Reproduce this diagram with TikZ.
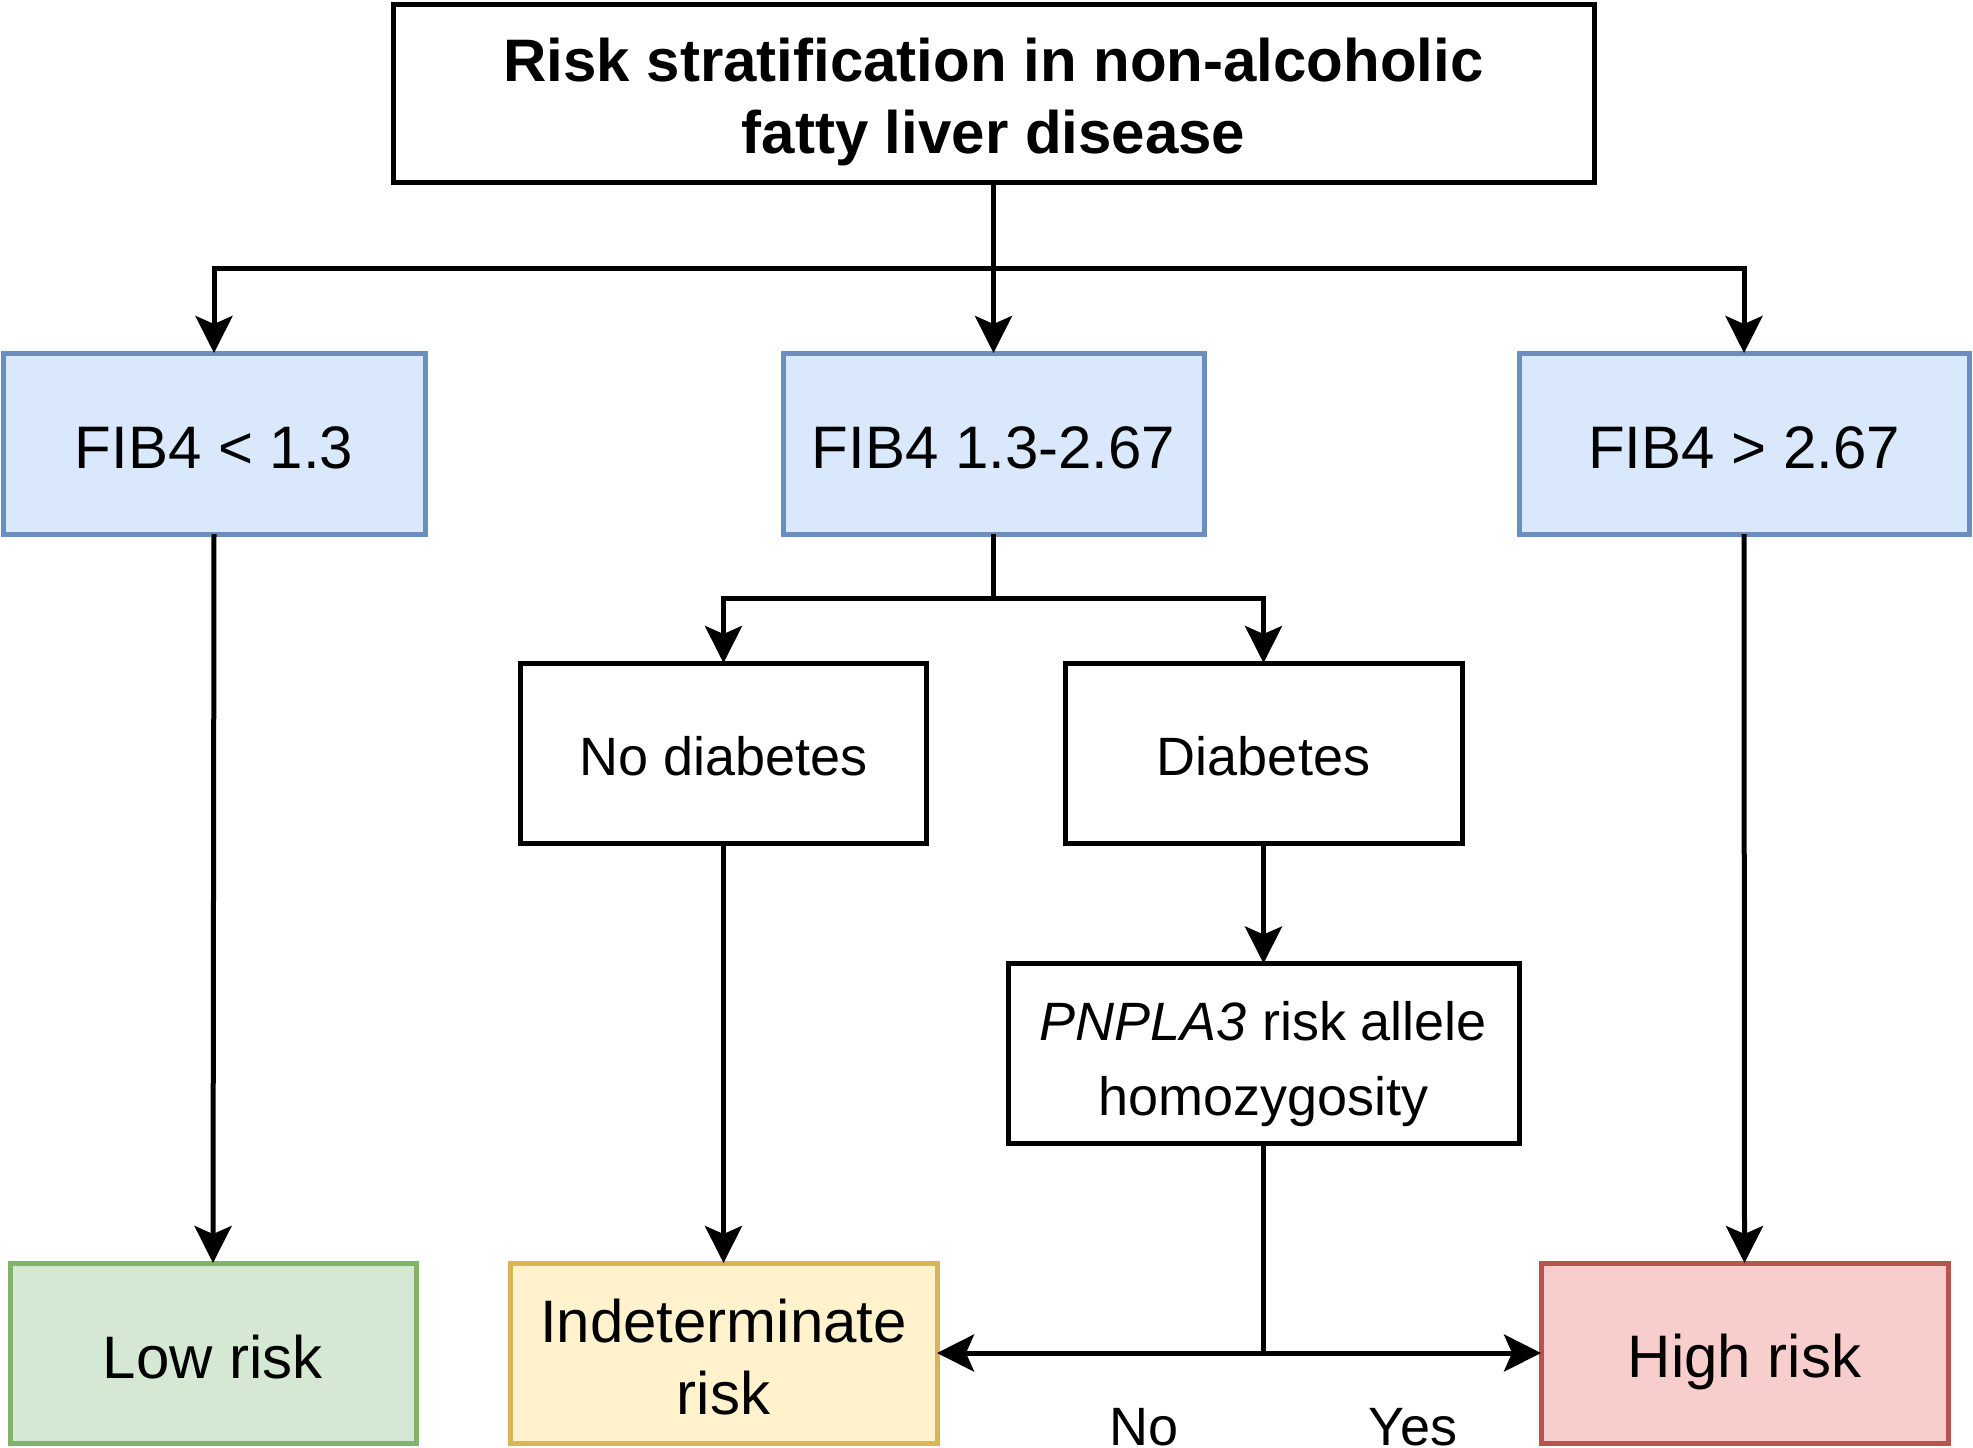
\documentclass[tikz,border=0pt]{standalone}
\usepackage{fontspec}
\setmainfont{Liberation Sans}
\usetikzlibrary{arrows.meta}
\definecolor{bluefill}{HTML}{DAE8FC}
\definecolor{bluedraw}{HTML}{6C8EBF}
\definecolor{greenfill}{HTML}{D5E8D4}
\definecolor{greendraw}{HTML}{82B366}
\definecolor{yellowfill}{HTML}{FFF2CC}
\definecolor{yellowdraw}{HTML}{D6B656}
\definecolor{redfill}{HTML}{F8CECC}
\definecolor{reddraw}{HTML}{B85450}
\newcommand\dstrut{\rule[-0.1833em]{0pt}{1.2em}}
\newcommand\pstrut{\rule[-6.5pt]{0pt}{37.5pt}}
\tikzset{
  box/.style={draw=black, fill=white, line width=2.5pt, rectangle, inner sep=0pt, outer sep=0pt, align=center},
  bigtext/.style={font=\fontsize{30pt}{36pt}\selectfont},
  smalltext/.style={font=\fontsize{27pt}{37.5pt}\selectfont},
  bluebox/.style={box, fill=bluefill, draw=bluedraw, bigtext, minimum height=90.5pt},
  lowbox/.style={box, fill=greenfill, draw=greendraw, bigtext, minimum height=90pt},
  midbox/.style={box, fill=yellowfill, draw=yellowdraw, bigtext, minimum height=90pt},
  highbox/.style={box, fill=redfill, draw=reddraw, bigtext, minimum height=90pt},
  plainbox/.style={box, smalltext, minimum height=90pt},
  conn/.style={line width=2.5pt, draw=black},
  arr/.style={conn, -{Stealth[length=18.5pt, width=18.5pt, inset=4pt]}},
  lbl/.style={smalltext, inner sep=0pt, anchor=base}
}
\begin{document}
\begin{tikzpicture}[x=0.5pt, y=-0.5pt]
\useasboundingbox (0,0) rectangle (1973,1447);
\fill[white] (0,0) rectangle (1973,1447);

\node[box, bigtext, minimum width=600.5pt, minimum height=89pt] (title) at (993.5,93.5)
  {\bfseries\dstrut Risk stratification in non-alcoholic\\\bfseries\dstrut fatty liver disease};

\node[bluebox, minimum width=211pt] (fibl) at (214,443.5) {\dstrut FIB4 < 1.3};
\node[bluebox, minimum width=210.5pt] (fibm) at (993.5,443.5) {\dstrut FIB4 1.3-2.67};
\node[bluebox, minimum width=225pt] (fibr) at (1744,443.5) {\dstrut FIB4 > 2.67};

\node[plainbox, minimum width=203pt] (nodiab) at (723.5,753) {\dstrut No diabetes};
\node[plainbox, minimum width=198.5pt] (diab) at (1263.5,753) {\dstrut Diabetes};
\node[plainbox, minimum width=255.5pt] (pnpla) at (1263.5,1053.5) {\pstrut\textit{PNPLA3} risk allele\\\pstrut homozygosity};

\node[lowbox, minimum width=203pt] (low) at (213,1353) {\dstrut Low risk};
\node[midbox, minimum width=213.5pt] (indet) at (723.5,1353) {\dstrut Indeterminate\\\dstrut risk};
\node[highbox, minimum width=203.5pt] (high) at (1744.5,1353) {\dstrut High risk};

\coordinate (j1) at (993.5,268);
\coordinate (j2) at (993.5,598);

\draw[arr] (title.south) -- (fibm.north);
\draw[arr] (j1) -| (fibl.north);
\draw[arr] (j1) -| (fibr.north);

\draw[arr] (fibl.south) -- (low.north);
\draw[arr] (fibr.south) -- (high.north);

\draw[conn] (fibm.south) -- (j2);
\draw[arr] (j2) -| (nodiab.north);
\draw[arr] (j2) -| (diab.north);

\draw[arr] (nodiab.south) -- (indet.north);
\draw[arr] (diab.south) -- (pnpla.north);

\draw[arr] (pnpla.south) |- (indet.east);
\draw[arr] (pnpla.south) |- (high.west);

\node[lbl] (no) at (1144,1445) {No};
\node[lbl] (yes) at (1413,1445) {Yes};
\end{tikzpicture}
\end{document}
